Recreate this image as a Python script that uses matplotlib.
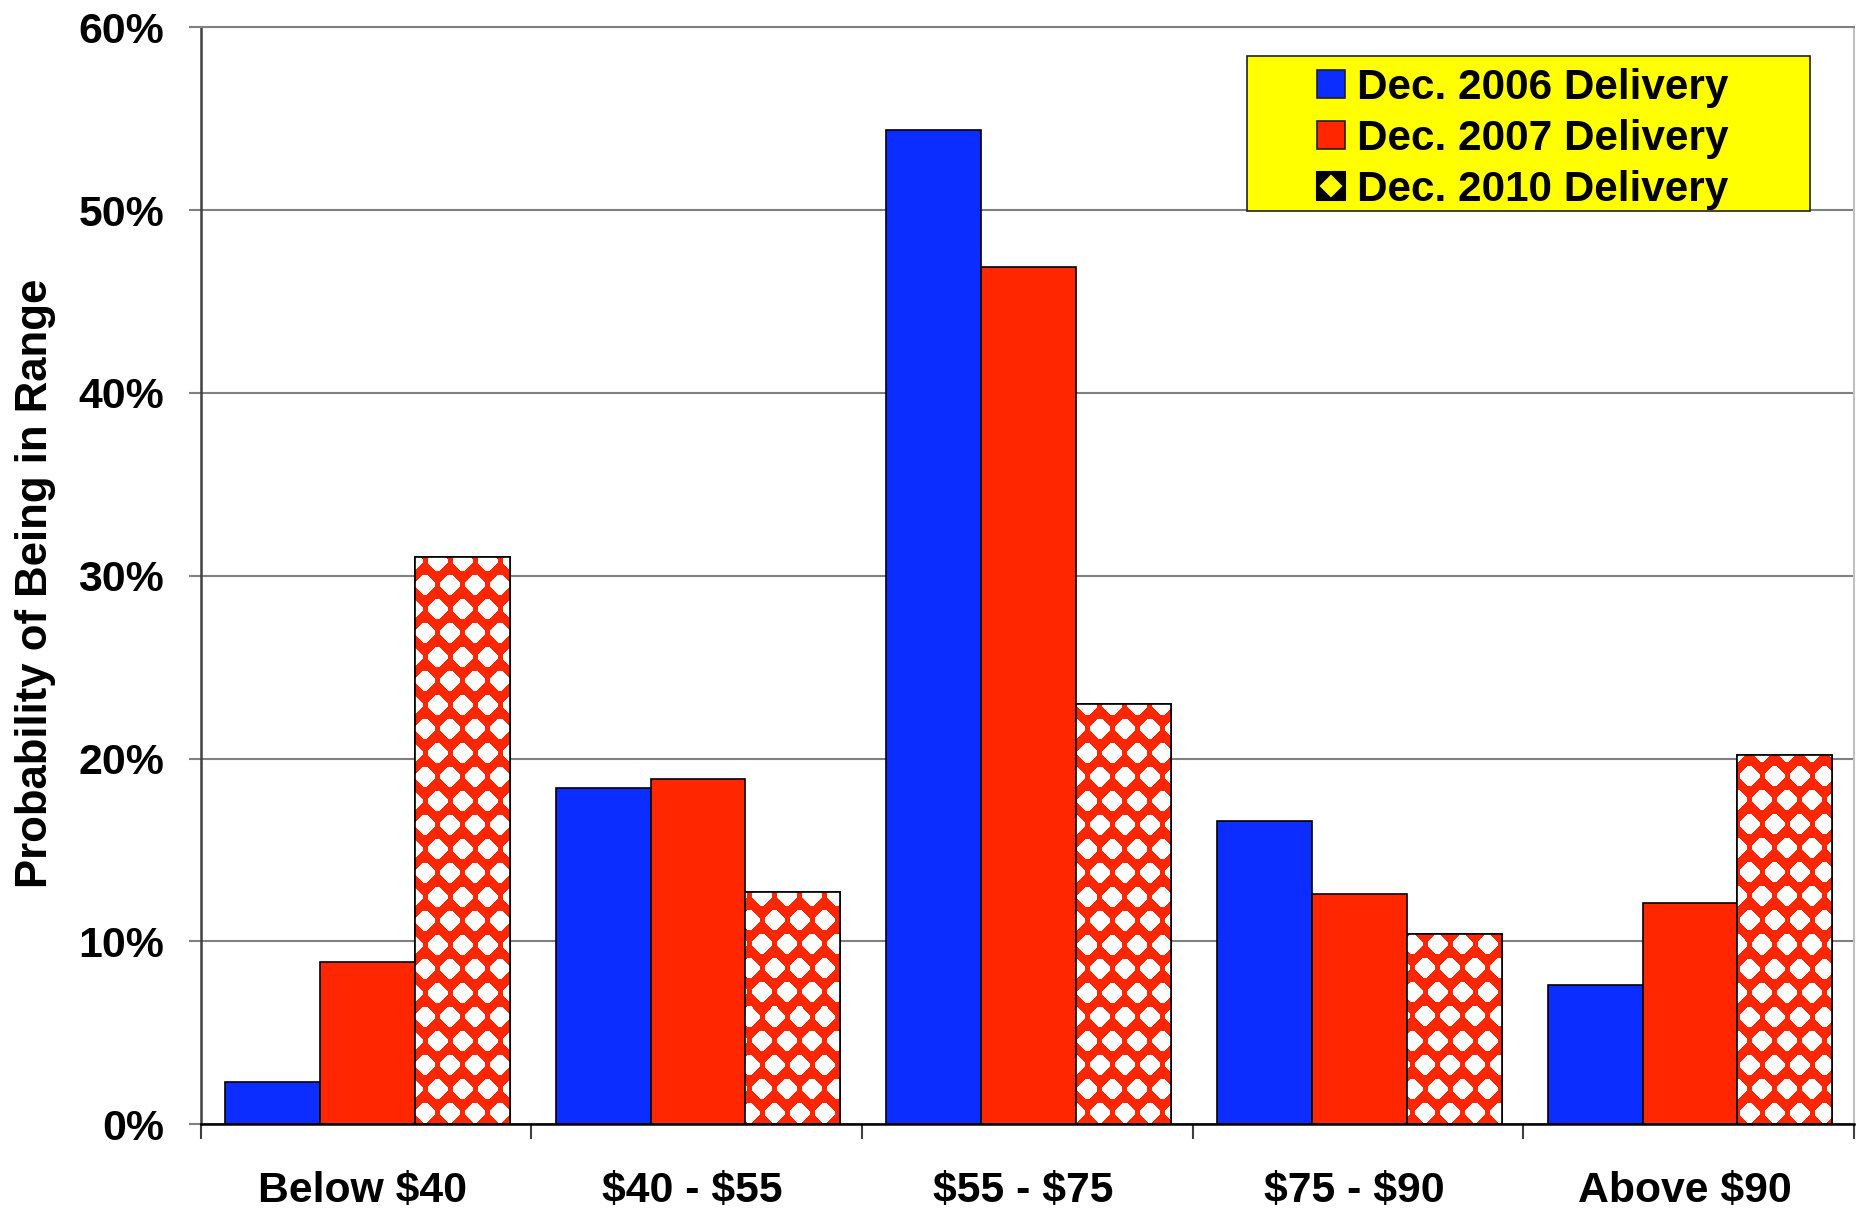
import numpy as np
import matplotlib
matplotlib.use("Agg")
import matplotlib.pyplot as plt
from matplotlib.patches import Patch, Rectangle
from matplotlib.lines import Line2D
from matplotlib.legend_handler import HandlerTuple
from matplotlib.transforms import ScaledTranslation

plt.rcParams["font.family"] = ["Liberation Sans", "DejaVu Sans"]
plt.rcParams["font.weight"] = "bold"
plt.rcParams["text.parse_math"] = False

# data (percent)
categories = ["Below $40", "$40 - $55", "$55 - $75", "$75 - $90", "Above $90"]
dec_2006 = [2.3, 18.4, 54.4, 16.6, 7.6]
dec_2007 = [8.9, 18.9, 46.9, 12.6, 12.1]
dec_2010 = [31.0, 12.7, 23.0, 10.4, 20.2]
series_labels = ["Dec. 2006 Delivery", "Dec. 2007 Delivery", "Dec. 2010 Delivery"]
y_ticks = [0, 10, 20, 30, 40, 50, 60]

BLUE = "#0c2dff"
RED = "#ff2600"
DPI = 150

# white diamond texture, in device pixels
PERIOD = 25.0
ROW = 24.0
RADIUS = 12.0
HALF = 10.0


def diamond_texture(x0, y0, w, h):
    xs = x0 + np.arange(w) + 0.5
    ys = y0 + h - np.arange(h) - 0.5
    xx, yy = np.meshgrid(xs, ys)
    inside = np.zeros(xx.shape, dtype=bool)
    j0 = np.floor(yy / ROW)
    for dj in (0, 1):
        j = j0 + dj
        off = (j % 2) * PERIOD / 2
        dx = np.abs(xx - (np.round((xx - off) / PERIOD) * PERIOD + off))
        dy = np.abs(yy - j * ROW)
        inside |= (dx + dy <= RADIUS) & (np.maximum(dx, dy) <= HALF)
    red = np.array(matplotlib.colors.to_rgb(RED))
    white = np.ones(3)
    return np.where(inside[..., None], white, red)


fig = plt.figure(figsize=(1856 / DPI, 1209 / DPI), dpi=DPI)
ax = fig.add_axes([0.10814, 0.07006, 0.8908, 0.9074])

x = np.arange(len(categories))
width = 0.287
shift = 0.004

ax.bar(x - width + shift, dec_2006, width, color=BLUE, edgecolor="black", linewidth=0.8, zorder=2)
ax.bar(x + shift, dec_2007, width, color=RED, edgecolor="black", linewidth=0.8, zorder=2)
bars_2010 = ax.bar(x + width + shift, dec_2010, width, color=RED, edgecolor="black",
                   linewidth=0.8, zorder=2)

ax.set_xlim(-0.5, len(categories) - 0.5)
ax.set_ylim(0, 60)

# fill the 2010 bars with the diamond pattern
for rect in bars_2010:
    bb = rect.get_window_extent()
    w = max(int(round(bb.width)), 1)
    h = max(int(round(bb.height)), 1)
    img = diamond_texture(bb.x0, bb.y0, w, h)
    rx, ry = rect.get_x(), rect.get_y()
    im = ax.imshow(img, extent=(rx, rx + rect.get_width(), ry, ry + rect.get_height()),
                   aspect="auto", interpolation="nearest", zorder=2.1)
    im.set_clip_path(rect)
ax.bar(x + width + shift, dec_2010, width, fill=False, edgecolor="black", linewidth=0.8,
       zorder=2.2)

ax.set_xlim(-0.5, len(categories) - 0.5)
ax.set_ylim(0, 60)

# axes styling
ax.set_axisbelow(True)
ax.yaxis.grid(True, color="#808080", linewidth=1.0)
ax.set_yticks(y_ticks)
ax.set_yticklabels([f"{t}%" for t in y_ticks])
ax.tick_params(axis="y", length=5.6, width=1.0, color="#808080", pad=12,
               labelsize=20.5)
ax.set_xticks(x)
ax.set_xticklabels(categories)
ax.set_xticks(np.arange(-0.5, len(categories)), minor=True)
ax.tick_params(axis="x", which="major", length=0, pad=22.4, labelsize=20.5)
ax.tick_params(axis="x", which="minor", length=7.2, width=1.0, color="#404040")
nudge = ScaledTranslation(-4 / DPI, 0, fig.dpi_scale_trans)
for lab in ax.get_xticklabels():
    lab.set_fontweight("bold")
    lab.set_transform(lab.get_transform() + nudge)
for lab in ax.get_yticklabels():
    lab.set_fontweight("bold")

ax.spines["left"].set_color("#404040")
ax.spines["left"].set_linewidth(1.2)
ax.spines["bottom"].set_color("black")
ax.spines["bottom"].set_linewidth(1.2)
ax.spines["top"].set_color("#808080")
ax.spines["top"].set_linewidth(1.0)
ax.spines["right"].set_color("#c0c0c0")
ax.spines["right"].set_linewidth(1.0)

fig.text(36 / 1856, 1 - 583 / 1209, "Probability of Being in Range", rotation=90,
         ha="center", va="center", fontsize=21, fontweight="bold")

# legend: yellow box plus frameless legend on top
ax.add_patch(Rectangle((0.6329, 0.8328), 0.3405, 0.1413, transform=ax.transAxes,
                       facecolor="#ffff00", edgecolor="#202020", linewidth=0.8,
                       zorder=4))
handles = [
    Patch(facecolor=BLUE, edgecolor="#202020", linewidth=0.8),
    Patch(facecolor=RED, edgecolor="#202020", linewidth=0.8),
    (Patch(facecolor="black", edgecolor="black"),
     Line2D([0], [0], marker="D", color="#ffff00", linestyle="none", markersize=6.5)),
]
leg = ax.legend(handles, series_labels, loc="upper left", bbox_to_anchor=(0.6752, 0.963),
                frameon=False, borderpad=0, borderaxespad=0, handlelength=0.66,
                handleheight=0.64, handletextpad=0.28, labelspacing=0.26,
                prop={"family": ["Liberation Sans", "DejaVu Sans"], "weight": "bold",
                      "size": 20.3},
                handler_map={tuple: HandlerTuple(ndivide=1, pad=0)})
leg.set_zorder(5)

fig.savefig("out.png", dpi=DPI)
